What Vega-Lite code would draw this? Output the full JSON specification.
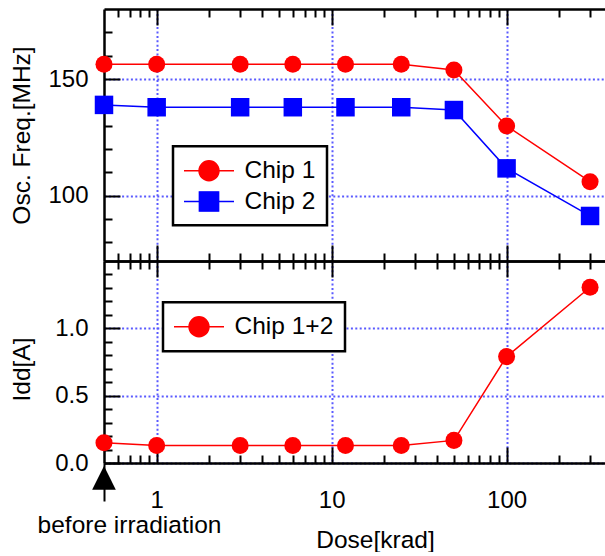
{
  "$schema": "https://vega.github.io/schema/vega-lite/v6.json",
  "padding": {"left": 8, "top": 8, "right": 0, "bottom": 0},
  "bounds": "flush",
  "spacing": 0,
  "resolve": {
    "scale": {"fill": "independent", "stroke": "independent", "shape": "independent"},
    "legend": {"fill": "independent", "stroke": "independent", "shape": "independent"}
  },
  "config": {
    "view": {"stroke": null},
    "font": "Liberation Sans",
    "axis": {
      "grid": false,
      "domainColor": "#000000",
      "domainWidth": 2.5,
      "tickColor": "#000000",
      "tickWidth": 2,
      "labelFont": "Liberation Sans",
      "labelFontSize": 24,
      "labelColor": "#000000",
      "labelFlush": false,
      "labelOverlap": false,
      "labelLimit": 0,
      "titleFont": "Liberation Sans",
      "titleFontSize": 24.5,
      "titleFontWeight": "normal",
      "titleColor": "#000000",
      "gridColor": "#5a5aff",
      "gridDash": [2, 2.4],
      "gridWidth": 2,
      "gridOpacity": 1
    },
    "legend": {
      "labelFont": "Liberation Sans",
      "labelFontSize": 24.5,
      "labelColor": "#000000",
      "labelLimit": 0,
      "strokeColor": "#000000",
      "strokeWidth": 2.5,
      "fillColor": "#ffffff",
      "padding": 11,
      "labelOffset": 22,
      "symbolOffset": 11.5,
      "rowPadding": 3.8,
      "symbolSize": 625,
      "symbolStrokeWidth": 1.4,
      "symbolOpacity": 1
    }
  },
  "datasets": {
    "freq": [
      {"Dose": 0.5, "Chip": "Chip 1", "Freq": 156.3},
      {"Dose": 1, "Chip": "Chip 1", "Freq": 156.3},
      {"Dose": 3, "Chip": "Chip 1", "Freq": 156.3},
      {"Dose": 6, "Chip": "Chip 1", "Freq": 156.3},
      {"Dose": 12, "Chip": "Chip 1", "Freq": 156.3},
      {"Dose": 25, "Chip": "Chip 1", "Freq": 156.3},
      {"Dose": 50, "Chip": "Chip 1", "Freq": 153.9},
      {"Dose": 100, "Chip": "Chip 1", "Freq": 129.9},
      {"Dose": 300, "Chip": "Chip 1", "Freq": 106},
      {"Dose": 0.5, "Chip": "Chip 2", "Freq": 138.9},
      {"Dose": 1, "Chip": "Chip 2", "Freq": 137.9},
      {"Dose": 3, "Chip": "Chip 2", "Freq": 137.9},
      {"Dose": 6, "Chip": "Chip 2", "Freq": 137.9},
      {"Dose": 12, "Chip": "Chip 2", "Freq": 137.9},
      {"Dose": 25, "Chip": "Chip 2", "Freq": 137.9},
      {"Dose": 50, "Chip": "Chip 2", "Freq": 136.7},
      {"Dose": 100, "Chip": "Chip 2", "Freq": 111.7},
      {"Dose": 300, "Chip": "Chip 2", "Freq": 91.3}
    ],
    "idd": [
      {"Dose": 0.5, "Chip": "Chip 1+2", "Idd": 0.15},
      {"Dose": 1, "Chip": "Chip 1+2", "Idd": 0.13},
      {"Dose": 3, "Chip": "Chip 1+2", "Idd": 0.13},
      {"Dose": 6, "Chip": "Chip 1+2", "Idd": 0.13},
      {"Dose": 12, "Chip": "Chip 1+2", "Idd": 0.13},
      {"Dose": 25, "Chip": "Chip 1+2", "Idd": 0.13},
      {"Dose": 50, "Chip": "Chip 1+2", "Idd": 0.168},
      {"Dose": 100, "Chip": "Chip 1+2", "Idd": 0.79},
      {"Dose": 300, "Chip": "Chip 1+2", "Idd": 1.305}
    ]
  },
  "vconcat": [
    {
      "width": 502,
      "height": 252,
      "data": {"name": "freq"},
      "resolve": {"axis": {"x": "independent", "y": "independent"}},
      "layer": [
        {
          "transform": [{"filter": "datum.Chip == 'Chip 1'"}],
          "mark": {"type": "line", "color": "#ff0000", "strokeWidth": 1.5},
          "encoding": {
            "x": {"field": "Dose", "type": "quantitative", "scale": {"type": "log", "domain": [0.5, 370], "nice": false},
              "axis": {"orient": "bottom", "values": [1, 10, 100], "tickSize": -16, "labels": false, "title": null, "grid": true}},
            "y": {"field": "Freq", "type": "quantitative", "scale": {"domain": [72, 180], "nice": false, "zero": false},
              "axis": {"orient": "left", "values": [100, 150], "tickSize": -16, "labelPadding": 32, "title": "Osc. Freq.[MHz]", "titleX": -75, "titleBaseline": "alphabetic", "grid": true}}
          }
        },
        {
          "transform": [{"filter": "datum.Chip == 'Chip 2'"}],
          "mark": {"type": "line", "color": "#0000ff", "strokeWidth": 1.5},
          "encoding": {
            "x": {"field": "Dose", "type": "quantitative", "scale": {"type": "log", "domain": [0.5, 370], "nice": false},
              "axis": {"orient": "top", "values": [1, 10, 100], "tickSize": -16, "labels": false, "title": null}},
            "y": {"field": "Freq", "type": "quantitative", "scale": {"domain": [72, 180], "nice": false, "zero": false},
              "axis": {"orient": "left", "values": [80, 90, 110, 120, 130, 140, 160, 170], "tickSize": -8, "labels": false, "domain": false, "title": null}}
          }
        },
        {
          "transform": [{"filter": "datum.Chip == 'Chip 1'"}],
          "mark": {"type": "point", "shape": "circle", "filled": true, "color": "#ff0000", "size": 290, "opacity": 1},
          "encoding": {
            "x": {"field": "Dose", "type": "quantitative", "scale": {"type": "log", "domain": [0.5, 370], "nice": false},
              "axis": {"orient": "bottom", "values": [0.6, 0.7, 0.8, 0.9, 2, 3, 4, 5, 6, 7, 8, 9, 20, 30, 40, 50, 60, 70, 80, 90, 200, 300], "tickSize": -8, "labels": false, "domain": false, "title": null}},
            "y": {"field": "Freq", "type": "quantitative", "scale": {"domain": [72, 180], "nice": false, "zero": false}, "axis": null}
          }
        },
        {
          "transform": [{"filter": "datum.Chip == 'Chip 2'"}],
          "mark": {"type": "point", "shape": "square", "filled": true, "color": "#0000ff", "size": 342, "opacity": 1},
          "encoding": {
            "x": {"field": "Dose", "type": "quantitative", "scale": {"type": "log", "domain": [0.5, 370], "nice": false},
              "axis": {"orient": "top", "values": [0.6, 0.7, 0.8, 0.9, 2, 3, 4, 5, 6, 7, 8, 9, 20, 30, 40, 50, 60, 70, 80, 90, 200, 300], "tickSize": -8, "labels": false, "domain": false, "title": null}},
            "y": {"field": "Freq", "type": "quantitative", "scale": {"domain": [72, 180], "nice": false, "zero": false}, "axis": null}
          }
        },
        {
          "transform": [{"filter": "datum.Dose < 0"}],
          "mark": {"type": "point", "filled": true, "opacity": 1},
          "encoding": {
            "x": {"field": "Dose", "type": "quantitative", "scale": {"type": "log", "domain": [0.5, 370], "nice": false}, "axis": null},
            "y": {"field": "Freq", "type": "quantitative", "scale": {"domain": [72, 180], "nice": false, "zero": false}, "axis": null},
            "fill": {"field": "Chip", "type": "nominal",
              "scale": {"domain": ["Chip 1", "Chip 2"], "range": ["#ff0000", "#0000ff"]},
              "legend": {"title": null, "orient": "none", "legendX": 69, "legendY": 137.2}},
            "stroke": {"field": "Chip", "type": "nominal",
              "scale": {"domain": ["Chip 1", "Chip 2"], "range": ["#ff0000", "#0000ff"]},
              "legend": {"title": null, "orient": "none", "legendX": 69, "legendY": 137.2}},
            "shape": {"field": "Chip", "type": "nominal",
              "scale": {"domain": ["Chip 1", "Chip 2"], "range": ["M-2,0L2,0M0.8,0A0.8,0.8,0,1,1,-0.8,0A0.8,0.8,0,1,1,0.8,0Z", "M-2,0L2,0M-0.772,-0.772L0.772,-0.772L0.772,0.772L-0.772,0.772Z"]},
              "legend": {"title": null, "orient": "none", "legendX": 69, "legendY": 137.2}}
          }
        }
      ]
    },
    {
      "width": 502,
      "height": 202,
      "data": {"name": "idd"},
      "resolve": {"axis": {"x": "independent", "y": "independent"}},
      "layer": [
        {
          "mark": {"type": "line", "color": "#ff0000", "strokeWidth": 1.5},
          "encoding": {
            "x": {"field": "Dose", "type": "quantitative", "scale": {"type": "log", "domain": [0.5, 370], "nice": false},
              "axis": {"orient": "bottom", "values": [1, 10, 100], "tickSize": -16, "labelPadding": 41.5, "title": "Dose[krad]", "titleX": 271, "titleY": 84, "titleBaseline": "alphabetic", "grid": true}},
            "y": {"field": "Idd", "type": "quantitative", "scale": {"domain": [0, 1.5], "nice": false},
              "axis": {"orient": "left", "values": [0, 0.5, 1], "format": ".1f", "tickSize": -16, "labelPadding": 32, "title": "Idd[A]", "titleX": -75, "titleY": 108, "titleBaseline": "alphabetic", "grid": true}}
          }
        },
        {
          "mark": {"type": "point", "shape": "circle", "filled": true, "color": "#ff0000", "size": 290, "opacity": 1},
          "encoding": {
            "x": {"field": "Dose", "type": "quantitative", "scale": {"type": "log", "domain": [0.5, 370], "nice": false},
              "axis": {"orient": "top", "values": [1, 10, 100], "tickSize": -16, "labels": false, "title": null}},
            "y": {"field": "Idd", "type": "quantitative", "scale": {"domain": [0, 1.5], "nice": false},
              "axis": {"orient": "left", "values": [0.1, 0.2, 0.3, 0.4, 0.6, 0.7, 0.8, 0.9, 1.1, 1.2, 1.3, 1.4], "tickSize": -8, "labels": false, "domain": false, "title": null}}
          }
        },
        {
          "transform": [{"filter": "datum.Dose == 0.5"}],
          "mark": {"type": "point", "shape": "M0,-1L1,1L-1,1Z", "filled": true, "color": "#000000", "size": 560, "opacity": 1},
          "encoding": {
            "x": {"field": "Dose", "type": "quantitative", "scale": {"type": "log", "domain": [0.5, 370], "nice": false},
              "axis": {"orient": "bottom", "values": [0.5], "tickSize": 38, "domain": false, "labelExpr": "'before irradiation'", "labelFontSize": 24.5, "labelPadding": 12, "labelOffset": 25, "title": null}},
            "y": {"datum": -0.11, "type": "quantitative", "scale": {"domain": [0, 1.5], "nice": false}, "axis": null}
          }
        },
        {
          "transform": [{"filter": "datum.Dose < 0"}],
          "mark": {"type": "point", "filled": true, "opacity": 1},
          "encoding": {
            "x": {"field": "Dose", "type": "quantitative", "scale": {"type": "log", "domain": [0.5, 370], "nice": false},
              "axis": {"orient": "top", "values": [0.6, 0.7, 0.8, 0.9, 2, 3, 4, 5, 6, 7, 8, 9, 20, 30, 40, 50, 60, 70, 80, 90, 200, 300], "tickSize": -8, "labels": false, "domain": false, "title": null}},
            "y": {"field": "Idd", "type": "quantitative", "scale": {"domain": [0, 1.5], "nice": false}, "axis": null},
            "fill": {"field": "Chip", "type": "nominal",
              "scale": {"domain": ["Chip 1+2"], "range": ["#ff0000"]},
              "legend": {"title": null, "orient": "none", "legendX": 59, "legendY": 41.2}},
            "stroke": {"field": "Chip", "type": "nominal",
              "scale": {"domain": ["Chip 1+2"], "range": ["#ff0000"]},
              "legend": {"title": null, "orient": "none", "legendX": 59, "legendY": 41.2}},
            "shape": {"field": "Chip", "type": "nominal",
              "scale": {"domain": ["Chip 1+2"], "range": ["M-2,0L2,0M0.8,0A0.8,0.8,0,1,1,-0.8,0A0.8,0.8,0,1,1,0.8,0Z"]},
              "legend": {"title": null, "orient": "none", "legendX": 59, "legendY": 41.2}}
          }
        },
        {
          "transform": [{"filter": "datum.Dose < 0"}],
          "mark": {"type": "point", "opacity": 0},
          "encoding": {
            "x": {"field": "Dose", "type": "quantitative", "scale": {"type": "log", "domain": [0.5, 370], "nice": false},
              "axis": {"orient": "bottom", "values": [0.6, 0.7, 0.8, 0.9, 2, 3, 4, 5, 6, 7, 8, 9, 20, 30, 40, 50, 60, 70, 80, 90, 200, 300], "tickSize": -8, "labels": false, "domain": false, "title": null}},
            "y": {"field": "Idd", "type": "quantitative", "scale": {"domain": [0, 1.5], "nice": false}, "axis": null}
          }
        }
      ]
    }
  ]
}
